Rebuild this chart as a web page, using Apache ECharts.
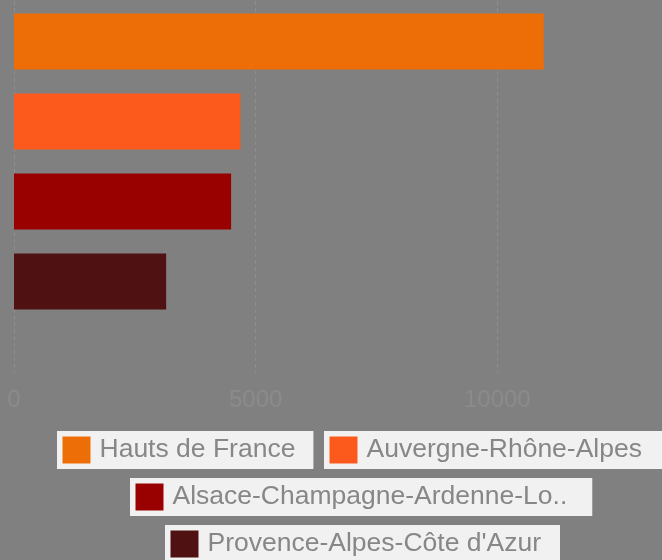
<!DOCTYPE html>
<html>
<head>
<meta charset="utf-8">
<script src="https://cdn.jsdelivr.net/npm/echarts@6/dist/echarts.min.js"></script>
<style>
html,body{margin:0;padding:0;background:#808080;}
#chart{width:662px;height:560px;}
</style>
</head>
<body>
<div id="chart"></div>
<script>
var regions = ['Hauts de France', 'Auvergne-Rhône-Alpes', 'Alsace-Champagne-Ardenne-Lorraine', "Provence-Alpes-Côte d'Azur"];
var values = [10960, 4685, 4492, 3148];
var colors = ['#ED6E06', '#FC5A1C', '#990000', '#4F1111'];
var xTicks = [0, 5000, 10000, 15000];

var legendPos = [
  {left: 57, top: 431, padRight: 18},
  {left: 324, top: 431, padRight: 21},
  {left: 130, top: 478, padRight: 25},
  {left: 165, top: 525, padRight: 19}
];

var chart = echarts.init(document.getElementById('chart'), null, {renderer: 'canvas'});

var splitLine = {show: true, lineStyle: {color: '#8e8e8e', type: [4, 3], width: 1}};

var series = regions.map(function (r, i) {
  return {
    name: r,
    type: 'bar',
    xAxisIndex: 0,
    yAxisIndex: 0,
    barWidth: 56,
    barGap: '43%',
    itemStyle: {color: colors[i]},
    data: [values[i]]
  };
});

var legends = regions.map(function (r, i) {
  return {
    data: [r],
    left: legendPos[i].left,
    top: legendPos[i].top,
    orient: 'horizontal',
    backgroundColor: '#f1f1f1',
    padding: [5.5, legendPos[i].padRight, 5.5, 5.5],
    icon: 'rect',
    itemWidth: 28,
    itemHeight: 27,
    selectedMode: false,
    textStyle: {
      color: '#878787',
      fontFamily: 'Liberation Sans, Arial, sans-serif',
      fontSize: 26.5,
      padding: [0, 0, 0, 4]
    },
    formatter: function (name) {
      return name.length > 29 ? name.slice(0, 27) + '..' : name;
    }
  };
});

chart.setOption({
  backgroundColor: '#808080',
  animation: false,
  legend: legends,
  grid: [
    {left: 14, top: 1, width: 725, height: 321, outerBoundsMode: 'none', containLabel: false},
    {left: 14, top: 322, width: 725, height: 51, outerBoundsMode: 'none', containLabel: false}
  ],
  xAxis: [
    {
      type: 'value', gridIndex: 0, min: xTicks[0], max: xTicks[xTicks.length - 1], interval: xTicks[1] - xTicks[0],
      axisLabel: {show: false}, axisLine: {show: false}, axisTick: {show: false},
      splitLine: splitLine
    },
    {
      type: 'value', gridIndex: 1, min: xTicks[0], max: xTicks[xTicks.length - 1], interval: xTicks[1] - xTicks[0],
      axisLine: {show: false}, axisTick: {show: false},
      axisLabel: {show: true, color: '#8b8b8b', fontSize: 24, margin: 15, fontFamily: 'Liberation Sans, Arial, sans-serif',
        formatter: function (v) { return String(v); }},
      splitLine: splitLine
    }
  ],
  yAxis: [
    {type: 'category', gridIndex: 0, data: [''], axisLine: {show: false}, axisTick: {show: false}, axisLabel: {show: false}, splitLine: {show: false}},
    {type: 'category', gridIndex: 1, data: [''], axisLine: {show: false}, axisTick: {show: false}, axisLabel: {show: false}, splitLine: {show: false}}
  ],
  series: series
});
</script>
</body>
</html>
